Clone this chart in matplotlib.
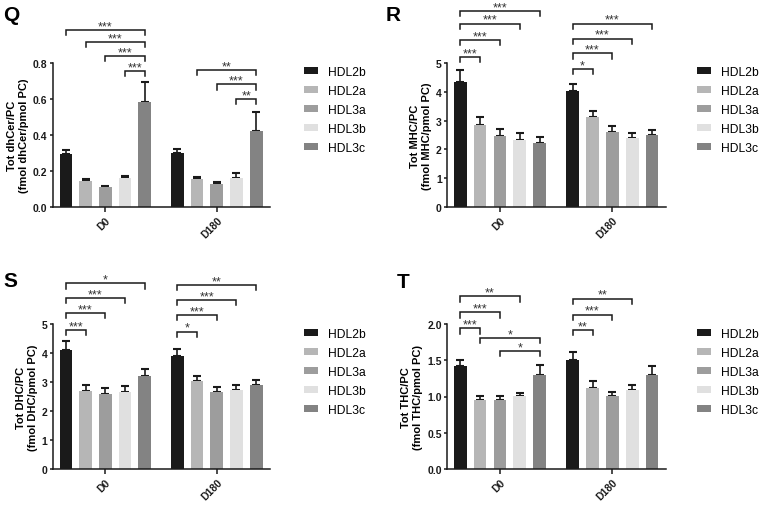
import numpy as np
import matplotlib
matplotlib.use('Agg')
import matplotlib.pyplot as plt

plt.rcParams['font.family'] = ['Liberation Sans', 'DejaVu Sans']

groups = ['D0', 'D180']
fractions = ['HDL2b', 'HDL2a', 'HDL3a', 'HDL3b', 'HDL3c']
colors = ['#1a1a1a', '#b6b6b6', '#9d9d9d', '#e0e0e0', '#838383']

# mean values per group (D0, D180), one entry per fraction
q_mean = [[0.293, 0.145, 0.113, 0.161, 0.582], [0.302, 0.156, 0.128, 0.161, 0.425]]
q_err = [[0.024, 0.009, 0.006, 0.013, 0.114], [0.020, 0.011, 0.009, 0.026, 0.102]]
r_mean = [[4.35, 2.85, 2.47, 2.33, 2.23], [4.04, 3.11, 2.59, 2.40, 2.50]]
r_err = [[0.41, 0.26, 0.24, 0.23, 0.21], [0.22, 0.21, 0.22, 0.18, 0.16]]
s_mean = [[4.12, 2.68, 2.59, 2.67, 3.19], [3.91, 3.03, 2.64, 2.71, 2.88]]
s_err = [[0.29, 0.21, 0.19, 0.19, 0.27], [0.22, 0.19, 0.20, 0.18, 0.20]]
t_mean = [[1.416, 0.952, 0.956, 1.002, 1.297], [1.508, 1.117, 1.007, 1.090, 1.297]]
t_err = [[0.084, 0.060, 0.051, 0.051, 0.143], [0.106, 0.092, 0.055, 0.064, 0.119]]

# significance: (group, bar a, bar b, label)
q_sig = [(0, 0, 4, '***'), (0, 1, 4, '***'), (0, 2, 4, '***'), (0, 3, 4, '***'),
         (1, 1, 4, '**'), (1, 2, 4, '***'), (1, 3, 4, '**')]
r_sig = [(0, 0, 4, '***'), (0, 0, 3, '***'), (0, 0, 2, '***'), (0, 0, 1, '***'),
         (1, 0, 4, '***'), (1, 0, 3, '***'), (1, 0, 2, '***'), (1, 0, 1, '*')]
s_sig = [(0, 0, 4, '*'), (0, 0, 3, '***'), (0, 0, 2, '***'), (0, 0, 1, '***'),
         (1, 0, 4, '**'), (1, 0, 3, '***'), (1, 0, 2, '***'), (1, 0, 1, '*')]
t_sig = [(0, 0, 3, '**'), (0, 0, 2, '***'), (0, 0, 1, '***'), (0, 1, 4, '*'), (0, 2, 4, '*'),
         (1, 0, 3, '**'), (1, 0, 2, '***'), (1, 0, 1, '**')]

# bracket heights (data units), same order as the *_sig lists
q_lev = [0.985, 0.915, 0.838, 0.756, 0.760, 0.681, 0.599]
r_lev = [6.81, 6.37, 5.81, 5.20, 6.37, 5.85, 5.33, 4.79]
s_lev = [6.40, 5.89, 5.37, 4.80, 6.34, 5.84, 5.31, 4.74]
t_lev = [2.38, 2.16, 1.94, 1.81, 1.63, 2.35, 2.13, 1.92]

GROUP_GAP = 5.66
W, H = 760, 506


def draw_panel(rect, letter, letter_xy, mean, err, sig, lev, ymax, yticks, fmt, ylabel, leg_xy):
    ax = fig.add_axes(rect)
    mean = np.array(mean)
    err = np.array(err)
    for i, name in enumerate(fractions):
        xs = np.arange(len(groups)) * GROUP_GAP + (i - 2)
        ax.bar(xs, mean[:, i], width=0.64, color=colors[i], label=name, zorder=2)
        ax.errorbar(xs, mean[:, i], yerr=[np.zeros(len(groups)), err[:, i]], fmt='none',
                    ecolor='#1a1a1a', elinewidth=1.2, capsize=2.8, capthick=1.5, zorder=1)
    ax.set_xlim(-2.65, 8.36)
    ax.set_ylim(0, ymax)
    ax.set_yticks(yticks)
    ax.set_yticklabels([fmt.format(v) for v in yticks], fontweight='bold', fontsize=7.5)
    ax.set_xticks(np.arange(len(groups)) * GROUP_GAP)
    ax.set_xticklabels(groups, rotation=45, ha='right', rotation_mode='anchor',
                       fontweight='bold', fontsize=7.5)
    ax.spines['top'].set_visible(False)
    ax.spines['right'].set_visible(False)
    for s in ['left', 'bottom']:
        ax.spines[s].set_linewidth(1.1)
        ax.spines[s].set_color('#1a1a1a')
    ax.tick_params(axis='y', width=1.1, length=2.5, pad=1.5, colors='#1a1a1a')
    ax.tick_params(axis='x', width=1.1, length=3.4, pad=2, colors='#1a1a1a')
    ax.set_ylabel(ylabel, fontweight='bold', fontsize=8, labelpad=3, linespacing=1.2)

    drop = ymax * 0.036
    for (g, a, b, lab), y in zip(sig, lev):
        xa = g * GROUP_GAP + (a - 2)
        xb = g * GROUP_GAP + (b - 2)
        ax.plot([xa, xa, xb, xb], [y - drop, y, y, y - drop], color='#1a1a1a', lw=1.1,
                clip_on=False, solid_joinstyle='miter')
        ax.annotate(lab, ((xa + xb) / 2, y), xytext=(0, 0.5), textcoords='offset points',
                    ha='center', va='baseline', fontsize=9, color='#333333',
                    annotation_clip=False)

    ax.legend(loc='center left', bbox_to_anchor=(leg_xy[0] / W, 1 - leg_xy[1] / H),
              bbox_transform=fig.transFigure, frameon=False, fontsize=8.7,
              borderpad=0, borderaxespad=0, handlelength=1.15, handleheight=0.5,
              handletextpad=0.85, labelspacing=0.58)
    fig.text(letter_xy[0] / W, 1 - letter_xy[1] / H, letter, fontsize=15,
             fontweight='bold', ha='left', va='baseline')
    return ax


fig = plt.figure(figsize=(7.6, 5.06), dpi=100)

draw_panel([53 / W, 1 - 208 / H, 217 / W, 144 / H], 'Q', (3, 20.7), q_mean, q_err, q_sig, q_lev,
           0.8, [0, 0.2, 0.4, 0.6, 0.8], '{:.1f}', 'Tot dhCer/PC\n(fmol dhCer/pmol PC)', (304, 111))
draw_panel([447.3 / W, 1 - 208 / H, 218.7 / W, 144 / H], 'R', (386, 20.7), r_mean, r_err, r_sig, r_lev,
           5, [0, 1, 2, 3, 4, 5], '{:.0f}', 'Tot MHC/PC\n(fmol MHC/pmol PC)', (697, 111))
draw_panel([53 / W, 1 - 470 / H, 217 / W, 145 / H], 'S', (3, 287), s_mean, s_err, s_sig, s_lev,
           5, [0, 1, 2, 3, 4, 5], '{:.0f}', 'Tot DHC/PC\n(fmol DHC/pmol PC)', (304, 373))
draw_panel([447.3 / W, 1 - 470 / H, 218.7 / W, 145 / H], 'T', (397, 288), t_mean, t_err, t_sig, t_lev,
           2.0, [0, 0.5, 1.0, 1.5, 2.0], '{:.1f}', 'Tot THC/PC\n(fmol THC/pmol PC)', (697, 373))

fig.savefig('out.png', dpi=100)
